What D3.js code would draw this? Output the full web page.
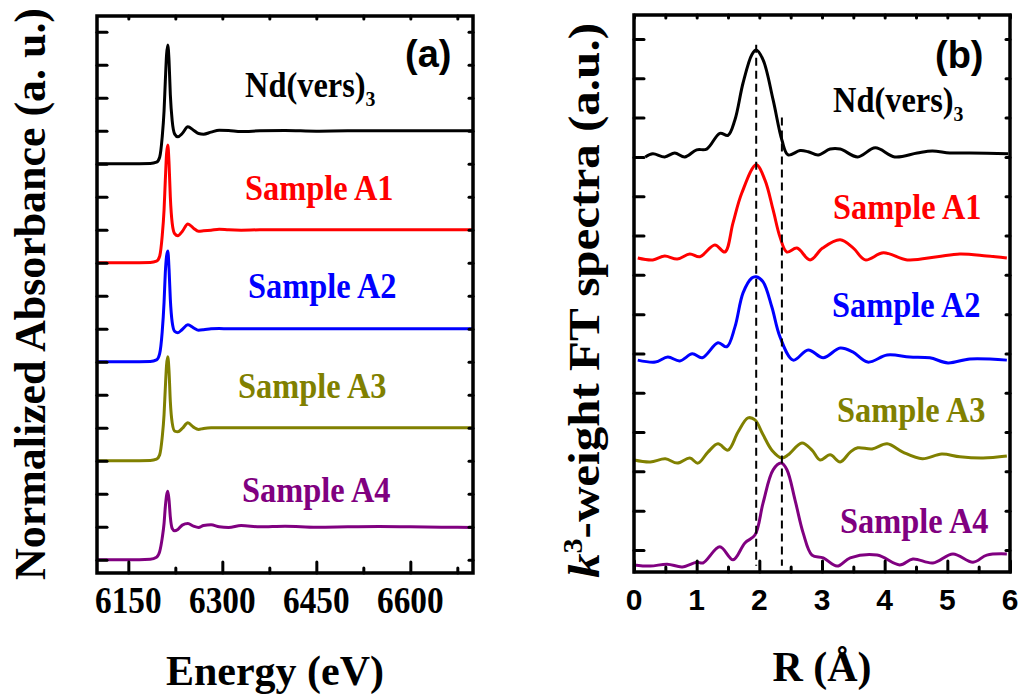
<!DOCTYPE html>
<html>
<head>
<meta charset="utf-8">
<script src="https://cdn.jsdelivr.net/npm/d3@7"></script>
<style>
  body { margin: 0; background: #fff; }
  svg { display: block; }
</style>
</head>
<body>
<svg id="chart" width="1022" height="695"></svg>
<script>
// ---- panel (a): XANES, normalized absorbance, stacked with offsets ----
var energy = [6100, 6150, 6185, 6195, 6200, 6204, 6207, 6209, 6211, 6213, 6215, 6217, 6220, 6224,
  6229, 6236, 6245, 6254, 6262, 6270, 6282, 6295, 6310, 6330, 6360, 6400, 6450, 6500, 6550, 6600, 6650, 6700];
var xanesNd = [0, 0, 0.01, 0.05, 0.2, 0.8, 1.6, 2.5, 3.3, 3.6, 3.1, 2.1, 1.3, 0.9,
  0.82, 0.92, 1.12, 1.02, 0.92, 0.9, 0.96, 1.02, 1.01, 0.98, 1.0, 1.01, 0.99, 1.0, 1.0, 1.0, 1.0, 1.0];
var xanesA1 = [0, 0, 0.01, 0.05, 0.2, 0.8, 1.6, 2.5, 3.3, 3.57, 3.0, 2.0, 1.2, 0.88,
  0.82, 0.95, 1.18, 1.05, 0.96, 0.97, 0.99, 1.02, 1.0, 0.99, 1.0, 1.0, 1.0, 1.0, 1.0, 1.0, 1.0, 1.0];
var xanesA2 = [0, 0, 0.01, 0.06, 0.25, 0.9, 1.8, 2.7, 3.2, 3.36, 2.8, 1.9, 1.2, 0.92,
  0.88, 0.98, 1.12, 1.03, 0.96, 0.97, 1.0, 1.01, 1.0, 1.0, 1.0, 1.0, 1.0, 1.0, 1.0, 1.0, 1.0, 1.0];
var xanesA3 = [0, 0, 0.01, 0.05, 0.18, 0.7, 1.4, 2.2, 2.9, 3.15, 2.7, 1.8, 1.15, 0.9,
  0.88, 0.98, 1.15, 1.02, 0.95, 0.98, 1.0, 1.0, 1.0, 1.0, 1.0, 1.0, 1.0, 1.0, 1.0, 1.0, 1.0, 1.0];
var xanesA4 = [0, 0, 0.02, 0.08, 0.25, 0.65, 1.1, 1.6, 1.95, 2.08, 1.8, 1.3, 0.95, 0.88,
  0.92, 1.05, 1.1, 1.02, 0.98, 1.04, 1.06, 1.0, 0.98, 1.04, 1.0, 1.02, 0.99, 1.0, 1.01, 1.0, 0.99, 0.98];
var offsetsA = [12, 9, 6, 3, 0];
var energyMajor = [6150, 6300, 6450, 6600];
var energyMinor = [6225, 6375, 6525, 6675];

// ---- panel (b): FT magnitude, values as read (already offset) ----
var rNd = [0.18, 0.30, 0.49, 0.65, 0.81, 1.00, 1.16, 1.37, 1.50, 1.61, 1.74, 1.88, 1.95, 2.06, 2.22,
  2.36, 2.46, 2.65, 2.78, 2.94, 3.13, 3.29, 3.57, 3.85, 4.16, 4.52, 4.76, 5.04, 5.36, 5.97];
var ftNd = [10.00, 10.08, 10.00, 10.10, 10.00, 10.18, 10.20, 10.60, 10.55, 10.94, 11.88, 12.60, 12.72, 12.47, 11.45,
  10.43, 10.05, 10.16, 10.13, 10.05, 10.20, 10.20, 10.00, 10.23, 10.00, 10.10, 10.15, 10.10, 10.10, 10.08];
var rA1 = [0.06, 0.30, 0.49, 0.69, 0.89, 1.05, 1.29, 1.45, 1.58, 1.72, 1.95, 2.09, 2.22, 2.33,
  2.44, 2.60, 2.81, 3.01, 3.29, 3.50, 3.69, 3.98, 4.36, 4.84, 5.20, 5.63, 5.95];
var ftA1 = [7.43, 7.38, 7.48, 7.40, 7.53, 7.46, 7.76, 7.58, 8.32, 9.08, 9.80, 9.41, 8.65, 7.96,
  7.58, 7.68, 7.38, 7.68, 7.89, 7.68, 7.38, 7.56, 7.38, 7.46, 7.53, 7.48, 7.43];
var rA2 = [0.06, 0.34, 0.54, 0.73, 0.93, 1.09, 1.34, 1.48, 1.61, 1.74, 1.88, 1.95, 2.06, 2.20,
  2.33, 2.54, 2.78, 3.02, 3.29, 3.49, 3.73, 4.04, 4.40, 4.72, 5.01, 5.36, 5.95];
var ftA2 = [4.83, 4.78, 4.91, 4.81, 4.99, 4.89, 5.27, 5.17, 5.67, 6.54, 6.92, 6.95, 6.82, 6.18,
  5.42, 4.83, 5.09, 4.89, 5.14, 5.04, 4.78, 4.96, 4.91, 4.89, 4.76, 4.86, 4.83];
var rA3 = [0.00, 0.26, 0.50, 0.69, 0.89, 1.02, 1.18, 1.34, 1.50, 1.66, 1.82, 1.93, 2.06, 2.20, 2.36, 2.46,
  2.68, 2.84, 2.97, 3.13, 3.29, 3.45, 3.57, 3.80, 4.04, 4.29, 4.60, 4.91, 5.20, 5.57, 5.95];
var ftA3 = [2.29, 2.24, 2.32, 2.21, 2.34, 2.21, 2.49, 2.70, 2.54, 3.00, 3.36, 3.31, 2.93, 2.54, 2.34, 2.42,
  2.72, 2.54, 2.29, 2.42, 2.24, 2.49, 2.60, 2.57, 2.70, 2.49, 2.32, 2.44, 2.37, 2.34, 2.39];
var rA4 = [0.00, 0.26, 0.53, 0.77, 1.00, 1.10, 1.37, 1.58, 1.77, 1.93, 2.06, 2.22, 2.35, 2.44, 2.57, 2.70,
  2.84, 3.02, 3.24, 3.45, 3.88, 4.24, 4.45, 4.77, 5.09, 5.41, 5.63, 5.95];
var ftA4 = [-0.38, -0.41, -0.36, -0.43, -0.31, -0.33, 0.08, -0.25, 0.18, 0.38, 1.20, 2.04, 2.21, 2.04, 1.27, 0.43,
  -0.13, -0.20, -0.41, -0.20, -0.13, -0.38, -0.23, -0.33, -0.10, -0.31, -0.13, -0.10];
var rMajor = [0, 1, 2, 3, 4, 5, 6];
var rMinor = [0.5, 1.5, 2.5, 3.5, 4.5, 5.5];
var dashR = [1.95, 2.36];
var dashTop = [12.85, 11.0];
var dashBottom = -0.4;

var names = ["Nd(vers)", "Sample A1", "Sample A2", "Sample A3", "Sample A4"];
var colors = ["#000000", "#ff0000", "#0000ff", "#808000", "#800080"];

var SERIF = "'Liberation Serif','Times New Roman',serif";
var SANS = "'Liberation Sans',Arial,sans-serif";

var svg = d3.select("#chart");

// draws the box, inward ticks on all four sides
function drawFrame(g, x, y, xMajor, xMinor, yTicks) {
  var x0 = x.range()[0], x1 = x.range()[1], y0 = y.range()[0], y1 = y.range()[1];

  function ticks(axis, tr) {
    var a = g.append("g").attr("transform", tr).call(axis);
    a.select(".domain").remove();
    a.selectAll("line").attr("stroke", "#000").attr("stroke-width", 3).attr("stroke-linecap", "round");
  }
  ticks(d3.axisBottom(x).tickValues(xMajor).tickSize(-11).tickFormat(""), "translate(0," + y0 + ")");
  ticks(d3.axisBottom(x).tickValues(xMinor).tickSize(-5).tickFormat(""), "translate(0," + y0 + ")");
  ticks(d3.axisTop(x).tickValues(xMajor.concat(xMinor)).tickSize(-3).tickFormat(""), "translate(0," + y1 + ")");
  ticks(d3.axisLeft(y).tickValues(yTicks).tickSize(-10).tickFormat(""), "translate(" + x0 + ",0)");
  ticks(d3.axisRight(y).tickValues(yTicks).tickSize(-4).tickFormat(""), "translate(" + x1 + ",0)");

  g.append("rect")
    .attr("x", x0).attr("y", y1)
    .attr("width", x1 - x0).attr("height", y0 - y1)
    .attr("fill", "none").attr("stroke", "#000").attr("stroke-width", 3.5);
}

// serif label, slightly condensed like the original
function seriesLabel(g, txt, sub, x, y, color) {
  var t = g.append("text")
    .attr("transform", "translate(" + x + "," + y + ") scale(0.9,1)")
    .attr("font-family", SERIF).attr("font-weight", "bold")
    .attr("font-size", 36).attr("fill", color)
    .text(txt);
  if (sub) {
    t.append("tspan").attr("font-size", 22).attr("dy", 9).text(sub);
  }
}

// ================= panel (a) =================
var xa = d3.scaleLinear().domain([6100, 6700]).range([97, 473]);
var ya = d3.scaleLinear().domain([-0.4, 16.48]).range([573, 16]);
var ga = svg.append("g");

var xanes = [xanesNd, xanesA1, xanesA2, xanesA3, xanesA4];
var lineA = d3.line().curve(d3.curveMonotoneX);
xanes.forEach(function (vals, i) {
  ga.append("path")
    .attr("d", lineA(energy.map(function (e, j) { return [xa(e), ya(vals[j] + offsetsA[i])]; })))
    .attr("fill", "none").attr("stroke", colors[i]).attr("stroke-width", 3)
    .attr("stroke-linejoin", "round");
});

drawFrame(ga, xa, ya, energyMajor, energyMinor, d3.range(0, 17));

ga.selectAll(".tl").data(energyMajor).enter().append("text")
  .attr("transform", function (d) { return "translate(" + xa(d) + ",613) scale(0.9,1)"; })
  .attr("text-anchor", "middle")
  .attr("font-family", SERIF).attr("font-weight", "bold").attr("font-size", 37)
  .text(function (d) { return d; });

var labAx = [245, 245, 248, 238, 242];
var labAy = [97, 200, 298, 398, 502];
names.forEach(function (n, i) {
  seriesLabel(ga, n, i === 0 ? "3" : null, labAx[i], labAy[i], colors[i]);
});

ga.append("text").attr("x", 405).attr("y", 67)
  .attr("font-family", SANS).attr("font-weight", "bold").attr("font-size", 38)
  .text("(a)");

ga.append("text").attr("x", 275).attr("y", 685).attr("text-anchor", "middle")
  .attr("font-family", SERIF).attr("font-weight", "bold").attr("font-size", 42)
  .text("Energy (eV)");

ga.append("text").attr("transform", "translate(45,580) rotate(-90)")
  .attr("textLength", 572).attr("lengthAdjust", "spacingAndGlyphs")
  .attr("font-family", SERIF).attr("font-weight", "bold").attr("font-size", 44)
  .text("Normalized Absorbance (a. u.)");

// ================= panel (b) =================
var xb = d3.scaleLinear().domain([0, 6]).range([634, 1010]);
var yb = d3.scaleLinear().domain([-0.56, 13.61]).range([572, 15]);
var gb = svg.append("g");

var rs = [rNd, rA1, rA2, rA3, rA4];
var fts = [ftNd, ftA1, ftA2, ftA3, ftA4];
var lineB = d3.line().curve(d3.curveCatmullRom.alpha(0.5));
fts.forEach(function (vals, i) {
  gb.append("path")
    .attr("d", lineB(rs[i].map(function (r, j) { return [xb(r), yb(vals[j])]; })))
    .attr("fill", "none").attr("stroke", colors[i]).attr("stroke-width", 3)
    .attr("stroke-linejoin", "round");
});

dashR.forEach(function (r, i) {
  gb.append("line")
    .attr("x1", xb(r)).attr("x2", xb(r))
    .attr("y1", yb(dashTop[i])).attr("y2", yb(dashBottom))
    .attr("stroke", "#000").attr("stroke-width", 2).attr("stroke-dasharray", "8,5");
});

drawFrame(gb, xb, yb, rMajor, rMinor, d3.range(0, 14));

gb.selectAll(".tl").data(rMajor).enter().append("text")
  .attr("x", function (d) { return xb(d); }).attr("y", 610)
  .attr("text-anchor", "middle")
  .attr("font-family", SANS).attr("font-weight", "bold").attr("font-size", 30)
  .text(function (d) { return d; });

var labBx = [833, 833, 832, 837, 840];
var labBy = [112, 219, 317, 422, 533];
names.forEach(function (n, i) {
  seriesLabel(gb, n, i === 0 ? "3" : null, labBx[i], labBy[i], colors[i]);
});

gb.append("text").attr("x", 935).attr("y", 68)
  .attr("font-family", SANS).attr("font-weight", "bold").attr("font-size", 38)
  .text("(b)");

gb.append("text").attr("x", 822).attr("y", 681).attr("text-anchor", "middle")
  .attr("font-family", SERIF).attr("font-weight", "bold").attr("font-size", 42)
  .text("R (\u00C5)");

var yl = gb.append("text").attr("transform", "translate(599,578) rotate(-90)")
  .attr("textLength", 555).attr("lengthAdjust", "spacingAndGlyphs")
  .attr("font-family", SERIF).attr("font-weight", "bold").attr("font-size", 44);
yl.append("tspan").attr("font-style", "italic").text("k");
yl.append("tspan").attr("font-size", 27).attr("dy", -17).text("3");
yl.append("tspan").attr("dy", 17).text("-weight FT spectra (a.u.)");
</script>
</body>
</html>
